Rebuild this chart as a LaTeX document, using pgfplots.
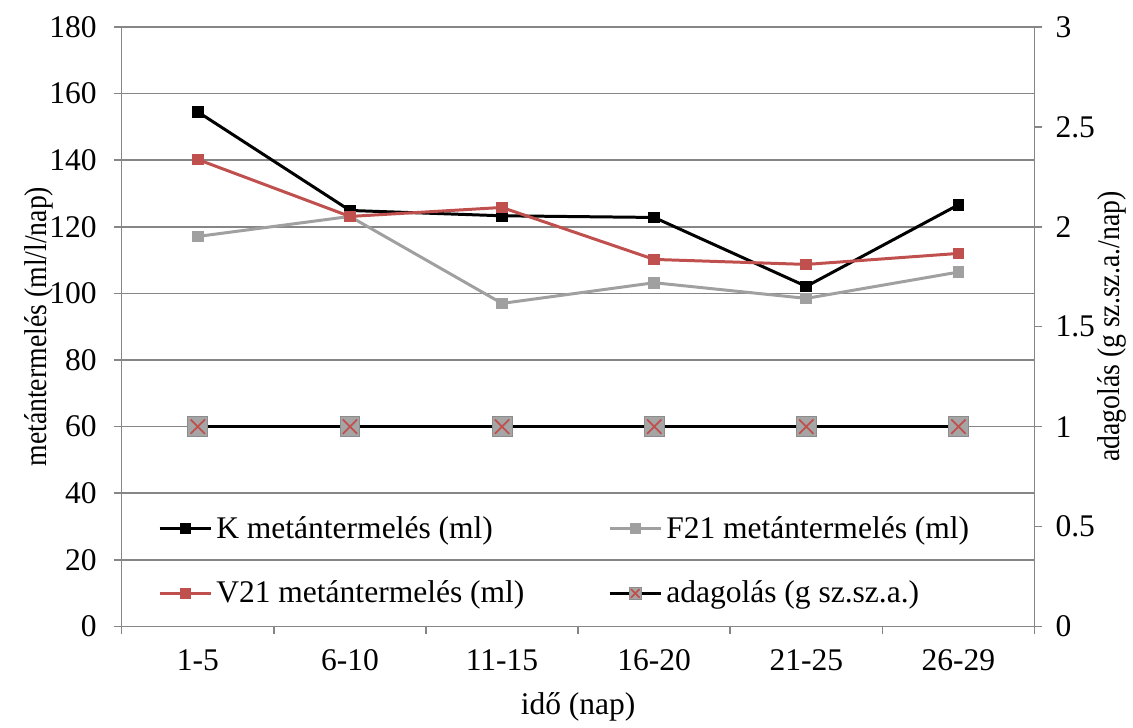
\documentclass[border=0pt]{standalone}
\usepackage{fontspec}
\setmainfont{Liberation Serif}
\usepackage{graphicx}
\usepackage{pgfplots}
\pgfplotsset{compat=1.18}

\definecolor{vred}{RGB}{192,80,77}
\definecolor{fgray}{RGB}{160,160,160}
\definecolor{gridgray}{RGB}{134,134,134}
\definecolor{mgray}{RGB}{165,165,165}
\definecolor{mborder}{RGB}{140,140,140}

% grey square with a red cross, used for the dosing series
\pgfdeclareplotmark{boxx}{%
  \pgfsetlinewidth{0.4pt}%
  \pgfsetfillcolor{mgray}\pgfsetstrokecolor{mborder}%
  \pgfpathrectangle{\pgfpoint{-\pgfplotmarksize}{-\pgfplotmarksize}}{\pgfpoint{2\pgfplotmarksize}{2\pgfplotmarksize}}%
  \pgfusepath{fill,stroke}%
  \pgfsetstrokecolor{vred}\pgfsetlinewidth{0.9pt}%
  \pgfpathmoveto{\pgfpoint{-0.72\pgfplotmarksize}{-0.72\pgfplotmarksize}}%
  \pgfpathlineto{\pgfpoint{0.72\pgfplotmarksize}{0.72\pgfplotmarksize}}%
  \pgfpathmoveto{\pgfpoint{-0.72\pgfplotmarksize}{0.72\pgfplotmarksize}}%
  \pgfpathlineto{\pgfpoint{0.72\pgfplotmarksize}{-0.72\pgfplotmarksize}}%
  \pgfusepath{stroke}%
}

\newcommand\chartfont{\fontsize{15.8}{18}\selectfont}
% axis titles are set slightly condensed
\newcommand\narrow[1]{\scalebox{0.88}[1]{#1}}

\pgfplotsset{
  common/.style={
    width=457.5pt, height=300.5pt, scale only axis,
    xmin=-0.5, xmax=5.5,
    tick align=outside,
    axis line style={gridgray, line width=0.75pt},
    tick style={gridgray, line width=0.75pt},
    major tick length=4pt,
    tick label style={font=\chartfont},
    label style={font=\chartfont},
    /pgf/number format/assume math mode=true,
  },
}

\begin{document}
\begin{tikzpicture}
\begin{axis}[
  common,
  ymin=0, ymax=180,
  ytick={0,20,...,180},
  yticklabel style={xshift=-5pt},
  axis y line*=left, axis x line*=bottom,
  xtick={-0.5,0.5,...,5.5},
  xticklabels={},
  extra x ticks={0,1,2,3,4,5},
  extra x tick labels={1-5,6-10,11-15,16-20,21-25,26-29},
  extra x tick style={major tick length=0pt, tick label style={yshift=-8pt}},
  ymajorgrids,
  grid style={gridgray, line width=0.75pt},
  xlabel={idő (nap)},
  ylabel={\narrow{metántermelés (ml/l/nap)}},
  ylabel shift=-9pt,
  every axis plot/.append style={line width=1.5pt, mark=square*, mark size=2.2pt},
]
% K
\addplot[black, mark options={fill=black}] coordinates {
  (0,154.5) (1,124.9) (2,123.3) (3,122.8) (4,102.1) (5,126.6)};
% F21
\addplot[fgray, mark options={fill=fgray}] coordinates {
  (0,117.1) (1,123.1) (2,97.0) (3,103.2) (4,98.5) (5,106.4)};
% V21
\addplot[vred, mark options={fill=vred}] coordinates {
  (0,140.2) (1,123.1) (2,125.8) (3,110.2) (4,108.7) (5,112.0)};
\end{axis}

\begin{axis}[
  common,
  ymin=0, ymax=3,
  ytick={0,0.5,...,3},
  yticklabel style={xshift=3pt},
  axis y line*=right, axis x line=none,
  ylabel={\narrow{adagolás (g sz.sz.a./nap)}},
  ylabel shift=-5.5pt,
  legend columns=2,
  legend style={draw=none, fill=none, at={(0.033,0.198)}, anchor=north west,
    font=\chartfont, row sep=16pt,
    /tikz/every even column/.append style={column sep=40pt}},
  legend cell align=left,
  legend image code/.code={%
    \draw[mark repeat=2, mark phase=2] plot coordinates {(0cm,0cm) (0.45cm,0cm) (0.9cm,0cm)};},
]
\addlegendimage{black, line width=1.5pt, mark=square*, mark size=2pt, mark options={fill=black}}
\addlegendentry{K metántermelés (ml)}
\addlegendimage{fgray, line width=1.5pt, mark=square*, mark size=2pt, mark options={fill=fgray}}
\addlegendentry{F21 metántermelés (ml)}
\addlegendimage{vred, line width=1.5pt, mark=square*, mark size=2pt, mark options={fill=vred}}
\addlegendentry{V21 metántermelés (ml)}
\addlegendimage{black, line width=1.5pt, mark=boxx, mark size=3pt}
\addlegendentry{adagolás (g sz.sz.a.)}
% dosing
\addplot[black, line width=1.5pt, mark=boxx, mark size=5pt, forget plot] coordinates {
  (0,1) (1,1) (2,1) (3,1) (4,1) (5,1)};
\end{axis}
% margins around the plot area
\path ([yshift=13.5pt]current axis.north);
\path ([xshift=-61pt]current axis.west);
\end{tikzpicture}
\end{document}
